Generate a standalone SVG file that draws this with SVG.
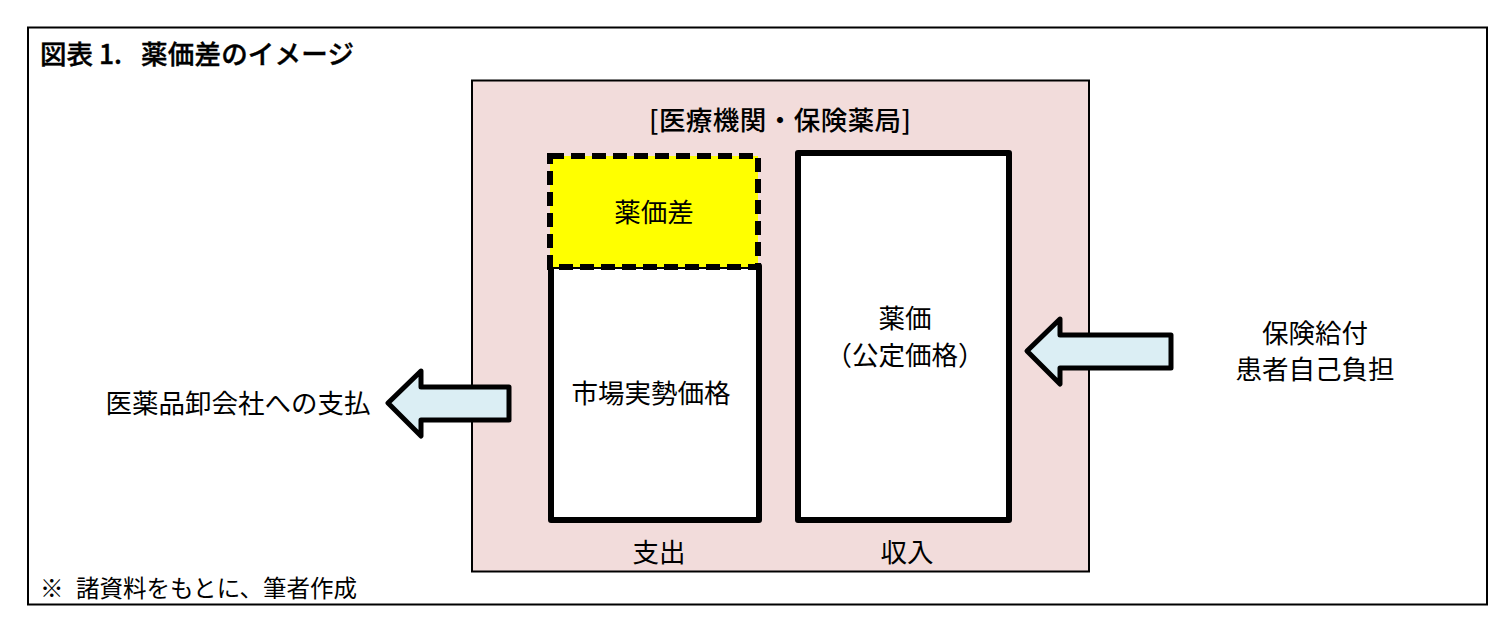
<svg xmlns="http://www.w3.org/2000/svg" width="1510" height="630" viewBox="0 0 1510 630">
<style>
text{font-family:"Noto Sans CJK JP","Liberation Sans",sans-serif;fill:#000}
.t{font-size:26.500px;text-anchor:middle}
.box{fill:#fff;stroke:#000;stroke-width:6;stroke-linejoin:round}
.arrow{fill:#dbeef4;stroke:#000;stroke-width:5;stroke-linejoin:round}
</style>
<rect width="1510" height="630" fill="#fff"/>
<rect id="frame" x="28" y="27.500" width="1459" height="577" fill="#fff" stroke="#000" stroke-width="2"/>
<g id="institution"><rect x="472" y="80.500" width="617" height="491" fill="#f2dcdb" stroke="#000" stroke-width="2"/>
<text class="t" x="780" y="130" textLength="262" font-weight="500">[医療機関・保険薬局]</text></g>
<g id="market-price"><rect class="box" x="551" y="266" width="208" height="254"/><text class="t" x="651" y="403">市場実勢価格</text></g>
<g id="price-gap"><rect x="550" y="156" width="208" height="111" fill="#ff0" stroke="#000" stroke-width="6" stroke-dasharray="14 7"/><text class="t" x="654" y="222">薬価差</text></g>
<g id="official-price"><rect class="box" x="798" y="153" width="211" height="367"/><text class="t" x="905" y="328">薬価</text><text class="t" x="905" y="365">（公定価格）</text></g>
<g id="connectors">
<path class="arrow" d="M509 387H421V371L388 403L421 436V420H509Z"/>
<path class="arrow" d="M1171 335H1060V319L1027 351L1060 384V368H1171Z"/>
</g>
<g id="title"><text x="40" y="64" font-size="26.500" font-weight="500" stroke="#000" stroke-width="0.400">図表 1.<tspan x="141" textLength="213">薬価差のイメージ</tspan></text></g>
<g id="payment"><text class="t" x="238" y="413">医薬品卸会社への支払</text></g>
<g id="benefits"><text class="t" x="1315" y="343">保険給付</text><text class="t" x="1315" y="379">患者自己負担</text></g>
<g id="labels"><text class="t" x="659" y="562">支出</text><text class="t" x="907" y="562">収入</text></g>
<g id="note"><text x="40" y="597" font-size="23.500">※<tspan x="76" textLength="281">諸資料をもとに、筆者作成</tspan></text></g>
</svg>
